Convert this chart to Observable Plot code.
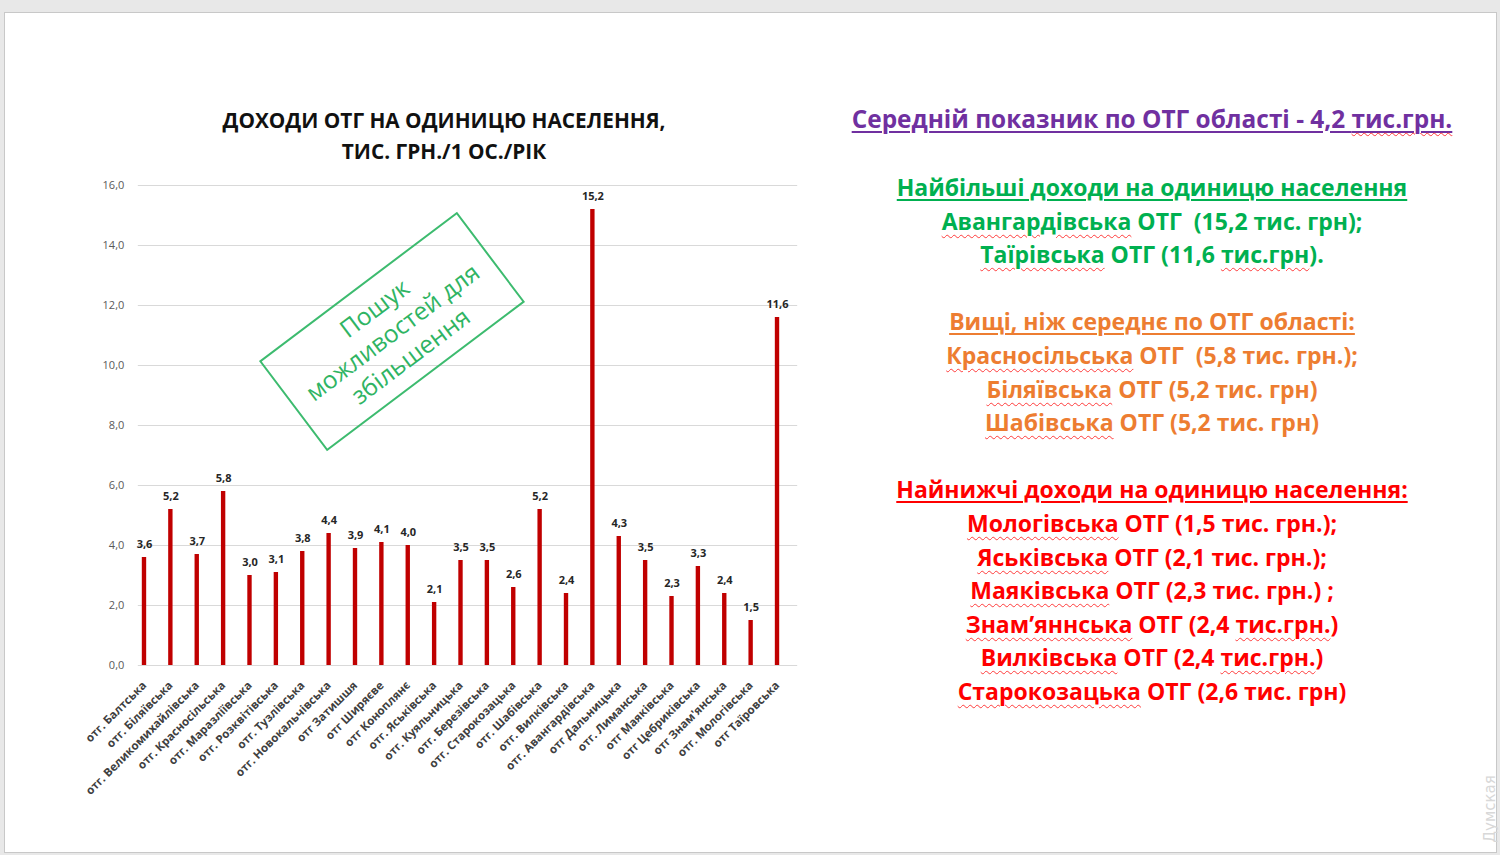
<!DOCTYPE html>
<html>
<head>
<meta charset="utf-8">
<script src="https://cdn.jsdelivr.net/npm/d3@7"></script>
<script src="https://cdn.jsdelivr.net/npm/@observablehq/plot@0.6"></script>
<style>
  html, body { margin: 0; padding: 0; }
  body { width: 1500px; height: 855px; background: #e8e8e8; position: relative; overflow: hidden; font-family: "Open Sans", sans-serif; }
  #slide { position: absolute; left: 4px; top: 12px; width: 1491px; height: 839px; background: #fff; border: 1px solid #c8c8c8; }
  #chart { position: absolute; left: 0; top: 170px; }
  #title { position: absolute; left: 144px; width: 600px; top: 105px; text-align: center; font-weight: 700; font-size: 20.8px; line-height: 31px; color: #111; }
  #note { position: absolute; left: 268px; top: 274.5px; width: 244px; height: 109px; border: 2px solid #3dbb6f; transform: rotate(-37deg); display: flex; align-items: center; justify-content: center; text-align: center; color: #2fb463; font-size: 24.5px; line-height: 30px; }
  #panel { position: absolute; left: 790px; width: 724px; top: 101.5px; text-align: center; font-weight: 700; font-size: 23px; line-height: 33.6px; }
  #panel div { white-space: nowrap; }
  .u { text-decoration: underline; text-decoration-thickness: 2px; text-underline-offset: 3px; }
  .w { text-decoration: underline wavy #ff3b3b; text-decoration-thickness: 1px; text-underline-offset: 4px; }
  .purple { color: #7030a0; font-size: 24.4px; }
  .green { color: #00b050; }
  .orange { color: #ed7d31; }
  .red { color: #ff0000; }
  #wm { position: absolute; left: 1440px; top: 800px; width: 100px; transform: rotate(-90deg); color: #d8d8d8; font-size: 15px; font-family: "DejaVu Sans", sans-serif; text-align: center; }
</style>
</head>
<body>
<div id="slide"></div>
<div id="title">ДОХОДИ ОТГ НА ОДИНИЦЮ НАСЕЛЕННЯ,<br>ТИС. ГРН./1 ОС./РІК</div>
<div id="chart"></div>
<div id="note"><div>Пошук<br>можливостей для<br>збільшення</div></div>
<div id="panel">
  <div class="purple"><span class="u">Середній показник по ОТГ області - 4,2 <span class="w">тис.грн.</span></span></div>
  <div style="height:36px"></div>
  <div class="green"><span class="u">Найбільші доходи на одиницю населення</span></div>
  <div class="green"><span class="w">Авангардівська</span> ОТГ&nbsp; (15,2 тис. грн);</div>
  <div class="green"><span class="w">Таїрівська</span> ОТГ (11,6 <span class="w">тис.грн</span>).</div>
  <div>&nbsp;</div>
  <div class="orange"><span class="u">Вищі, ніж середнє по ОТГ області:</span></div>
  <div class="orange"><span class="w">Красносільська</span> ОТГ&nbsp; (5,8 тис. грн.);</div>
  <div class="orange"><span class="w">Біляївська</span> ОТГ (5,2 тис. грн)</div>
  <div class="orange"><span class="w">Шабівська</span> ОТГ (5,2 тис. грн)</div>
  <div>&nbsp;</div>
  <div class="red"><span class="u">Найнижчі доходи на одиницю населення:</span></div>
  <div class="red"><span class="w">Мологівська</span> ОТГ (1,5 тис. грн.);</div>
  <div class="red"><span class="w">Яськівська</span> ОТГ (2,1 тис. грн.);</div>
  <div class="red"><span class="w">Маяківська</span> ОТГ (2,3 тис. грн.) ;</div>
  <div class="red"><span class="w">Знам’яннська</span> ОТГ (2,4 <span class="w">тис.грн.</span>)</div>
  <div class="red"><span class="w">Вилківська</span> ОТГ (2,4 <span class="w">тис.грн.</span>)</div>
  <div class="red"><span class="w">Старокозацька</span> ОТГ (2,6 тис. грн)</div>
</div>
<div id="wm">Думская</div>
<script>
const categories = [
  "отг. Балтська", "отг. Біляївська", "отг. Великомихайлівська", "отг. Красносільська",
  "отг. Маразліївська", "отг. Розквітівська", "отг. Тузлівська", "отг. Новокальчівська",
  "отг Затишшя", "отг Ширяєве", "отг Коноплянє", "отг. Яськівська",
  "отг. Куяльницька", "отг. Березівська", "отг. Старокозацька", "отг. Шабівська",
  "отг. Вилківська", "отг. Авангардівська", "отг Дальницька", "отг. Лиманська",
  "отг Маяківська", "отг Цебриківська", "отг Знам'янська", "отг. Мологівська", "отг Таїровська"
];
const values = [3.6, 5.2, 3.7, 5.8, 3.0, 3.1, 3.8, 4.4, 3.9, 4.1, 4.0, 2.1, 3.5, 3.5, 2.6, 5.2, 2.4, 15.2, 4.3, 3.5, 2.3, 3.3, 2.4, 1.5, 11.6];
const yTicks = [0, 2, 4, 6, 8, 10, 12, 14, 16];

const data = categories.map((name, i) => ({name, value: values[i]}));
const fmt = d => d.toFixed(1).replace(".", ",");

const chart = Plot.plot({
  width: 820,
  height: 640,
  marginLeft: 130.8,
  marginRight: 29.8,
  marginTop: 15,
  marginBottom: 145,
  style: {fontFamily: "Open Sans, sans-serif", background: "transparent", overflow: "visible"},
  x: {domain: categories, padding: 0, round: false, label: null},
  y: {domain: [0, 16], label: null},
  marks: [
    Plot.ruleY(yTicks, {stroke: "#d9d9d9", strokeWidth: 1, dx: 7}),
    Plot.axisY({ticks: yTicks, tickFormat: fmt, tickSize: 0, tickPadding: 7, fontSize: 11, fill: "#595959", label: null}),
    Plot.axisX({tickRotate: -45, tickSize: 0, tickPadding: 18, fontSize: 11.5, fontWeight: "bold", fill: "#404040", label: null}),
    Plot.barY(data, {x: "name", y: "value", fill: "#c00000", insetLeft: 11, insetRight: 11}),
    Plot.text(data, {x: "name", y: "value", text: d => fmt(d.value), dy: -13, fontSize: 11, fontWeight: "bold", fill: "#262626"})
  ]
});
document.getElementById("chart").appendChild(chart);
</script>
</body>
</html>
